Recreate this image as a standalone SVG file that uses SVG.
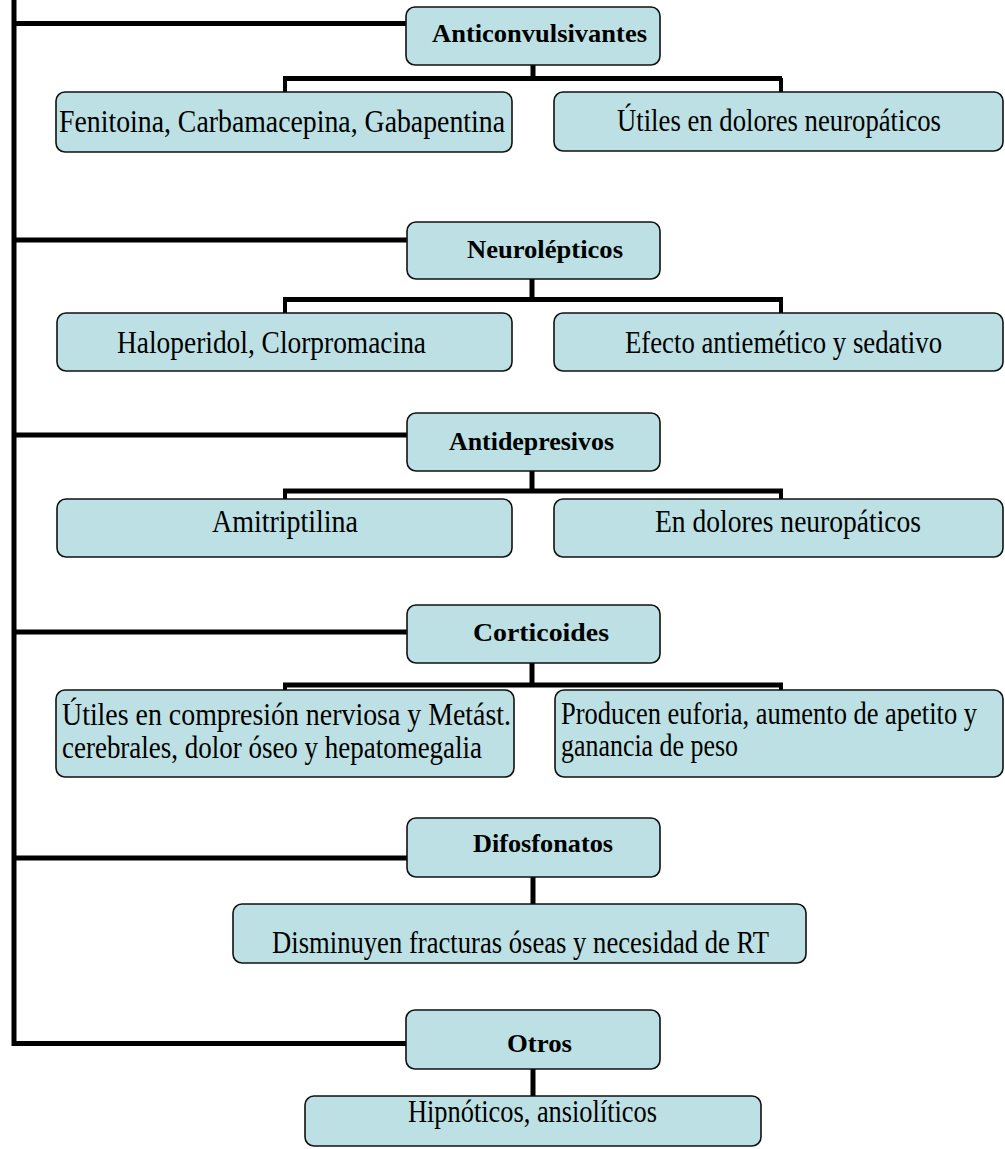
<svg xmlns="http://www.w3.org/2000/svg" width="1005" height="1149" viewBox="0 0 1005 1149">
  <style>
    .box { fill: #bce0e3; stroke: #111; stroke-width: 1.6; }
    .wire { stroke: #000; stroke-width: 5; fill: none; }
    .drop { stroke: #000; stroke-width: 4; fill: none; }
    .h { font-family: "Liberation Serif", "Times New Roman", serif; font-weight: bold; font-size: 26px; fill: #000; }
    .t { font-family: "Liberation Serif", "Times New Roman", serif; font-size: 32px; fill: #000; }
  </style>
  <rect x="0" y="0" width="1005" height="1149" fill="#fff"/>

  <!-- connectors -->
  <g id="connectors">
    <!-- main spine -->
    <line class="wire" x1="14" y1="0" x2="14" y2="1046"/>
    <line class="wire" x1="12" y1="23.5" x2="407" y2="23.5"/>
    <line class="wire" x1="12" y1="240" x2="407" y2="240"/>
    <line class="wire" x1="12" y1="435" x2="407" y2="435"/>
    <line class="wire" x1="12" y1="632" x2="407" y2="632"/>
    <line class="wire" x1="12" y1="858" x2="407" y2="858"/>
    <line class="wire" x1="12" y1="1043.5" x2="407" y2="1043.5"/>

    <!-- Anticonvulsivantes branch -->
    <line class="wire" x1="533" y1="65" x2="533" y2="78.5"/>
    <line class="wire" x1="283" y1="78.5" x2="782" y2="78.5"/>
    <line class="drop" x1="285" y1="78" x2="285" y2="93"/>
    <line class="drop" x1="781" y1="78" x2="781" y2="93"/>

    <!-- Neurolépticos branch -->
    <line class="wire" x1="532" y1="279" x2="532" y2="299.5"/>
    <line class="wire" x1="283" y1="299.5" x2="783" y2="299.5"/>
    <line class="drop" x1="285" y1="299" x2="285" y2="314"/>
    <line class="drop" x1="781" y1="299" x2="781" y2="314"/>

    <!-- Antidepresivos branch -->
    <line class="wire" x1="532" y1="471" x2="532" y2="491"/>
    <line class="wire" x1="283" y1="491" x2="783" y2="491"/>
    <line class="drop" x1="285" y1="491" x2="285" y2="499"/>
    <line class="drop" x1="781" y1="491" x2="781" y2="499"/>

    <!-- Corticoides branch -->
    <line class="wire" x1="532" y1="663" x2="532" y2="685"/>
    <line class="wire" x1="283" y1="685" x2="783" y2="685"/>
    <line class="drop" x1="285" y1="685" x2="285" y2="690"/>
    <line class="drop" x1="781" y1="685" x2="781" y2="690"/>

    <!-- Difosfonatos branch -->
    <line class="wire" x1="533" y1="877" x2="533" y2="904"/>

    <!-- Otros branch -->
    <line class="wire" x1="533" y1="1069" x2="533" y2="1096"/>
  </g>

  <!-- Anticonvulsivantes -->
  <g id="anticonvulsivantes">
    <rect class="box" x="406" y="7" width="254" height="58" rx="9"/>
    <text class="h" x="432" y="42" textLength="215" lengthAdjust="spacingAndGlyphs">Anticonvulsivantes</text>
  </g>
  <g id="anticonvulsivantes-farmacos">
    <rect class="box" x="56" y="92" width="456" height="60" rx="9"/>
    <text class="t" x="59" y="132" textLength="446" lengthAdjust="spacingAndGlyphs">Fenitoina, Carbamacepina, Gabapentina</text>
  </g>
  <g id="anticonvulsivantes-uso">
    <rect class="box" x="554" y="92" width="449" height="59" rx="9"/>
    <text class="t" x="617" y="131" textLength="324" lengthAdjust="spacingAndGlyphs">Útiles en dolores neuropáticos</text>
  </g>

  <!-- Neurolépticos -->
  <g id="neurolepticos">
    <rect class="box" x="407" y="222" width="253" height="57" rx="9"/>
    <text class="h" x="467" y="258" textLength="156" lengthAdjust="spacingAndGlyphs">Neurolépticos</text>
  </g>
  <g id="neurolepticos-farmacos">
    <rect class="box" x="57" y="313" width="455" height="58" rx="9"/>
    <text class="t" x="117" y="353" textLength="309" lengthAdjust="spacingAndGlyphs">Haloperidol,  Clorpromacina</text>
  </g>
  <g id="neurolepticos-uso">
    <rect class="box" x="554" y="313" width="449" height="58" rx="9"/>
    <text class="t" x="625" y="353" textLength="317" lengthAdjust="spacingAndGlyphs">Efecto antiemético y sedativo</text>
  </g>

  <!-- Antidepresivos -->
  <g id="antidepresivos">
    <rect class="box" x="407" y="413" width="253" height="58" rx="9"/>
    <text class="h" x="449" y="450" textLength="165" lengthAdjust="spacingAndGlyphs">Antidepresivos</text>
  </g>
  <g id="antidepresivos-farmacos">
    <rect class="box" x="57" y="499" width="455" height="58" rx="9"/>
    <text class="t" x="212" y="532" textLength="146" lengthAdjust="spacingAndGlyphs">Amitriptilina</text>
  </g>
  <g id="antidepresivos-uso">
    <rect class="box" x="554" y="499" width="449" height="58" rx="9"/>
    <text class="t" x="655" y="532" textLength="266" lengthAdjust="spacingAndGlyphs">En dolores  neuropáticos</text>
  </g>

  <!-- Corticoides -->
  <g id="corticoides">
    <rect class="box" x="407" y="605" width="253" height="58" rx="9"/>
    <text class="h" x="473" y="641" textLength="136" lengthAdjust="spacingAndGlyphs">Corticoides</text>
  </g>
  <g id="corticoides-usos">
    <rect class="box" x="56" y="690" width="458" height="87" rx="9"/>
    <text class="t" x="62" y="725" textLength="449" lengthAdjust="spacingAndGlyphs">Útiles en compresión nerviosa y Metást.</text>
    <text class="t" x="62" y="758" textLength="420" lengthAdjust="spacingAndGlyphs">cerebrales, dolor óseo y hepatomegalia</text>
  </g>
  <g id="corticoides-efectos">
    <rect class="box" x="555" y="690" width="448" height="87" rx="9"/>
    <text class="t" x="561" y="724" textLength="416" lengthAdjust="spacingAndGlyphs">Producen euforia, aumento de apetito y</text>
    <text class="t" x="561" y="756" textLength="177" lengthAdjust="spacingAndGlyphs">ganancia de peso</text>
  </g>

  <!-- Difosfonatos -->
  <g id="difosfonatos">
    <rect class="box" x="407" y="818" width="253" height="59" rx="9"/>
    <text class="h" x="473" y="852" textLength="140" lengthAdjust="spacingAndGlyphs">Difosfonatos</text>
  </g>
  <g id="difosfonatos-efecto">
    <rect class="box" x="233" y="904" width="573" height="59" rx="9"/>
    <text class="t" x="272" y="953" textLength="497" lengthAdjust="spacingAndGlyphs">Disminuyen fracturas óseas y necesidad de RT</text>
  </g>

  <!-- Otros -->
  <g id="otros">
    <rect class="box" x="406" y="1010" width="254" height="59" rx="9"/>
    <text class="h" x="507" y="1052" textLength="65" lengthAdjust="spacingAndGlyphs">Otros</text>
  </g>
  <g id="otros-farmacos">
    <rect class="box" x="305" y="1096" width="456" height="50" rx="9"/>
    <text class="t" x="408" y="1122" textLength="249" lengthAdjust="spacingAndGlyphs">Hipnóticos, ansiolíticos</text>
  </g>
</svg>
